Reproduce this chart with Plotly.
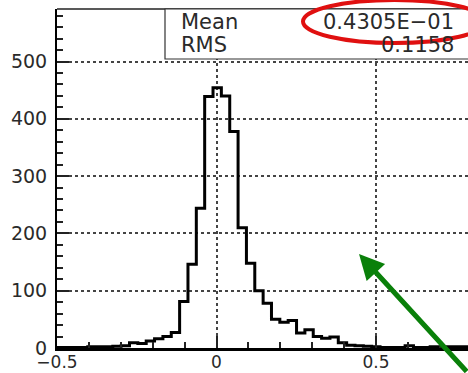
import plotly.graph_objects as go

# ---- data ----
bin_start = -0.5345      # left edge of first bin
bin_width = 0.02618      # bin width
counts = [1, 1, 1, 1, 1, 2, 2, 2, 3, 4,
          9, 8, 12, 16, 20, 27, 81, 146, 244, 439,
          454, 440, 378, 210, 148, 100, 78, 50, 45, 48,
          26, 32, 20, 17, 19, 9, 5, 4, 3, 2,
          1, 1, 1, 4, 1, 1, 2, 1, 2, 2, 2]
stat_labels = ["Mean", "RMS"]
stat_values = ["0.4305E\u221201", "0.1158"]
x_ticks = [-0.5, 0, 0.5]
x_tick_text = ["\u22120.5", "0", "0.5"]
y_ticks = [0, 100, 200, 300, 400, 500]

edges = [bin_start + i * bin_width for i in range(len(counts) + 1)]
ys = counts + [counts[-1]]

W, H = 468, 373
L, R, T, B = 57, 0, 9, 25
pw, ph = W - L - R, H - T - B

def px(x):
    return (x - L) / pw

def py(y):
    return (H - B - y) / ph

FONT = "DejaVu Sans, Verdana, sans-serif"

fig = go.Figure()
fig.add_trace(go.Scatter(
    x=edges, y=ys, mode="lines", line=dict(shape="hv", color="black", width=3),
    hoverinfo="skip", showlegend=False))

fig.update_layout(
    width=W, height=H, margin=dict(l=L, r=R, t=T, b=B),
    paper_bgcolor="white", plot_bgcolor="white",
    font=dict(family=FONT, size=19, color="#2a2a2a"),
    xaxis=dict(range=[-0.5, -0.5 + pw / 319.0], tickvals=x_ticks, ticktext=x_tick_text,
               ticks="inside", ticklen=12, tickwidth=1.5, tickcolor="#222",
               showgrid=True, gridcolor="#444", gridwidth=1.5, griddash="dot",
               showline=True, linecolor="black", linewidth=2.5, zeroline=False,
               minor=dict(dtick=0.1, ticks="inside", ticklen=6, tickcolor="#222", tickwidth=1.5, showgrid=False),
               tickfont=dict(size=17), ticklabelstandoff=-3, automargin=False),
    yaxis=dict(range=[0, ph / 0.573], tickvals=y_ticks,
               ticks="inside", ticklen=12, tickwidth=1.5, tickcolor="#222",
               showgrid=True, gridcolor="#444", gridwidth=1.5, griddash="dot",
               showline=True, linecolor="black", linewidth=2, zeroline=False,
               minor=dict(dtick=20, ticks="inside", ticklen=6, tickcolor="#222", tickwidth=1.5, showgrid=False),
               tickfont=dict(size=19), ticklabelstandoff=4, automargin=False),
)

# top frame
fig.add_shape(type="line", xref="paper", yref="paper", x0=0, x1=1.02, y0=1, y1=1,
              line=dict(color="#222", width=1.5))
# stats box
fig.add_shape(type="rect", xref="paper", yref="paper",
              x0=px(165), x1=1.05, y0=py(59), y1=1,
              line=dict(color="#333", width=1.2), fillcolor="white", layer="above")
for i, (lab, val) in enumerate(zip(stat_labels, stat_values)):
    yy = py(22 + 23 * i)
    fig.add_annotation(xref="paper", yref="paper", x=px(179), y=yy, text=lab,
                       showarrow=False, xanchor="left", yanchor="middle",
                       font=dict(size=21, color="#2a2a2a"))
    fig.add_annotation(xref="paper", yref="paper", x=px(456), y=yy, text=val,
                       showarrow=False, xanchor="right", yanchor="middle",
                       font=dict(size=21, color="#2a2a2a"))

# red ellipse highlight
fig.add_shape(type="circle", xref="paper", yref="paper",
              x0=px(303), x1=px(486), y0=py(43), y1=py(0),
              line=dict(color="#e01010", width=4), layer="above")

# green arrow
fig.add_annotation(xref="paper", yref="paper", x=px(359), y=py(254),
                   ax=110, ay=127, axref="pixel", ayref="pixel",
                   text="", showarrow=True, arrowhead=2, arrowsize=1.0,
                   arrowwidth=5, arrowcolor="#0a800a")

fig.write_html("out.html")
